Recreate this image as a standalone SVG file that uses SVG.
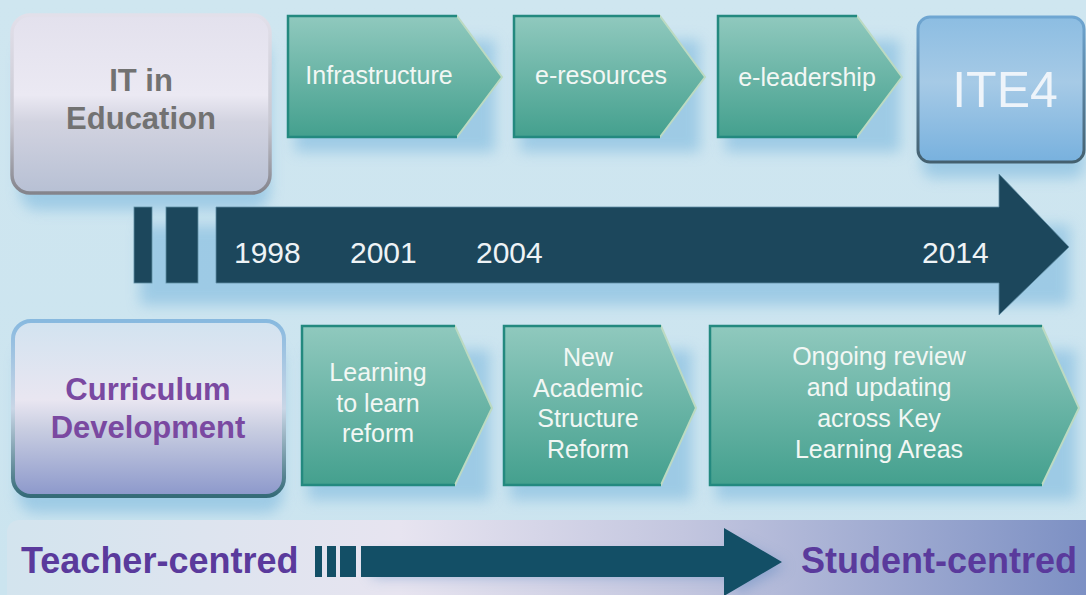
<svg xmlns="http://www.w3.org/2000/svg" width="1086" height="595" viewBox="0 0 1086 595">
  <defs>
    <linearGradient id="bg" x1="0" y1="0" x2="0" y2="1">
      <stop offset="0" stop-color="#cfe6f0"/>
      <stop offset="1" stop-color="#cbe4ef"/>
    </linearGradient>
    <linearGradient id="chev" x1="0" y1="0" x2="0" y2="1">
      <stop offset="0" stop-color="#90c9be"/>
      <stop offset="1" stop-color="#44a08e"/>
    </linearGradient>
    <linearGradient id="itFill" x1="0" y1="0" x2="0" y2="1">
      <stop offset="0" stop-color="#e3e1ed"/>
      <stop offset="0.45" stop-color="#ebe9f3"/>
      <stop offset="0.6" stop-color="#d2d3e0"/>
      <stop offset="1" stop-color="#b7c0d4"/>
    </linearGradient>
    <linearGradient id="itStroke" x1="0" y1="0" x2="0" y2="1">
      <stop offset="0" stop-color="#e2e0ea"/>
      <stop offset="0.6" stop-color="#c8c8d2"/>
      <stop offset="1" stop-color="#84848c"/>
    </linearGradient>
    <linearGradient id="cdFill" x1="0" y1="0" x2="0" y2="1">
      <stop offset="0" stop-color="#d2e3f0"/>
      <stop offset="0.45" stop-color="#e9e6f1"/>
      <stop offset="0.62" stop-color="#c8cde1"/>
      <stop offset="1" stop-color="#8c98cb"/>
    </linearGradient>
    <linearGradient id="cdStroke" x1="0" y1="0" x2="0" y2="1">
      <stop offset="0" stop-color="#88b9df"/>
      <stop offset="0.5" stop-color="#c9d6e6"/>
      <stop offset="1" stop-color="#356b78"/>
    </linearGradient>
    <linearGradient id="iteFill" x1="0" y1="0" x2="0" y2="1">
      <stop offset="0" stop-color="#8cbde2"/>
      <stop offset="0.45" stop-color="#a6cae6"/>
      <stop offset="1" stop-color="#78b1de"/>
    </linearGradient>
    <linearGradient id="iteStroke" x1="0" y1="0" x2="0" y2="1">
      <stop offset="0" stop-color="#6fa6d2"/>
      <stop offset="1" stop-color="#44606f"/>
    </linearGradient>
    <linearGradient id="band" x1="0" y1="0" x2="1" y2="0">
      <stop offset="0" stop-color="#d3e4ee"/>
      <stop offset="0.36" stop-color="#e7e4f0"/>
      <stop offset="0.62" stop-color="#c3c6df"/>
      <stop offset="1" stop-color="#7b8fc3"/>
    </linearGradient>
    <filter id="soft" x="-20%" y="-20%" width="140%" height="160%">
      <feGaussianBlur stdDeviation="7"/>
    </filter>
    <style>
      .chev { fill: url(#chev); stroke: #bcdac2; stroke-width: 2; }
      .edge { fill: none; stroke: #23897f; stroke-width: 2.5; }
      .shadow { fill: #8ec2e2; opacity: 0.75; filter: url(#soft); }
      .lbl { font-family: "Liberation Sans", Arial, sans-serif; font-size: 25px; fill: #f2f7f4; text-anchor: middle; }
      .head { font-family: "Liberation Sans", Arial, sans-serif; font-weight: bold; font-size: 31px; text-anchor: middle; }
      .year { font-family: "Liberation Sans", Arial, sans-serif; font-size: 30px; fill: #eef3f6; }
      .pole { font-family: "Liberation Sans", Arial, sans-serif; font-weight: bold; font-size: 36px; fill: #5a3a9c; }
    </style>
  </defs>

  <!-- backdrop -->
  <rect x="0" y="0" width="1086" height="595" fill="url(#bg)"/>

  <!-- soft shadows beneath shapes -->
  <g id="shadows">
    <rect class="shadow" x="20" y="40" width="250" height="170" rx="18"/>
    <rect class="shadow" x="295" y="40" width="200" height="112"/>
    <rect class="shadow" x="520" y="40" width="180" height="112"/>
    <rect class="shadow" x="725" y="40" width="175" height="112"/>
    <rect class="shadow" x="922" y="40" width="162" height="138" rx="12"/>
    <rect class="shadow" x="140" y="225" width="930" height="80"/>
    <rect class="shadow" x="18" y="345" width="265" height="168" rx="18"/>
    <rect class="shadow" x="308" y="350" width="182" height="150"/>
    <rect class="shadow" x="510" y="350" width="182" height="150"/>
    <rect class="shadow" x="716" y="350" width="360" height="150"/>
  </g>

  <!-- IT in Education -->
  <g id="node-it">
    <rect x="12" y="15" width="258" height="178" rx="18" fill="url(#itFill)" stroke="url(#itStroke)" stroke-width="3.5"/>
    <text class="head" x="141" y="91" fill="#727272">IT in</text>
    <text class="head" x="141" y="129" fill="#727272">Education</text>
  </g>

  <!-- IT milestones -->
  <g id="node-infrastructure">
    <polygon class="chev" points="288,16 457,16 502,77 457,137 288,137"/>
    <polyline class="edge" points="457,16 288,16 288,137 457,137"/>
    <text class="lbl" x="379" y="84">Infrastructure</text>
  </g>
  <g id="node-eresources">
    <polygon class="chev" points="514,16 660,16 705,77 660,137 514,137"/>
    <polyline class="edge" points="660,16 514,16 514,137 660,137"/>
    <text class="lbl" x="601" y="84">e-resources</text>
  </g>
  <g id="node-eleadership">
    <polygon class="chev" points="718,16 857,16 902,77 857,137 718,137"/>
    <polyline class="edge" points="857,16 718,16 718,137 857,137"/>
    <text class="lbl" x="807" y="86">e-leadership</text>
  </g>
  <g id="node-ite4">
    <rect x="918" y="17" width="166" height="145" rx="12" fill="url(#iteFill)" stroke="url(#iteStroke)" stroke-width="3"/>
    <text x="1005" y="107" font-family="Liberation Sans, Arial, sans-serif" font-size="50" fill="#eef4fa" text-anchor="middle">ITE4</text>
  </g>

  <!-- Curriculum Development -->
  <g id="node-curriculum">
    <rect x="13" y="321" width="271" height="175" rx="18" fill="url(#cdFill)" stroke="url(#cdStroke)" stroke-width="4"/>
    <text class="head" x="148" y="400" fill="#7a49a1">Curriculum</text>
    <text class="head" x="148" y="438" fill="#7a49a1">Development</text>
  </g>

  <!-- Curriculum milestones -->
  <g id="node-learning">
    <polygon class="chev" points="302,326 455,326 492,408 455,485 302,485"/>
    <polyline class="edge" points="455,326 302,326 302,485 455,485"/>
    <text class="lbl" x="378" y="381">Learning</text>
    <text class="lbl" x="378" y="412">to learn</text>
    <text class="lbl" x="378" y="442">reform</text>
  </g>
  <g id="node-nas">
    <polygon class="chev" points="504,326 661,326 696,408 661,485 504,485"/>
    <polyline class="edge" points="661,326 504,326 504,485 661,485"/>
    <text class="lbl" x="588" y="366">New</text>
    <text class="lbl" x="588" y="397">Academic</text>
    <text class="lbl" x="588" y="427">Structure</text>
    <text class="lbl" x="588" y="458">Reform</text>
  </g>
  <g id="node-ongoing">
    <polygon class="chev" points="710,326 1042,326 1079,408 1042,485 710,485"/>
    <polyline class="edge" points="1042,326 710,326 710,485 1042,485"/>
    <text class="lbl" x="879" y="365">Ongoing review</text>
    <text class="lbl" x="879" y="396">and updating</text>
    <text class="lbl" x="879" y="427">across Key</text>
    <text class="lbl" x="879" y="458">Learning Areas</text>
  </g>

  <!-- connectors: timeline arrow and progression arrow -->
  <g id="connectors">
    <g id="timeline" fill="#1c475c" stroke="#5f8ea4" stroke-width="0.8">
      <rect x="134" y="207" width="18" height="76"/>
      <rect x="166" y="207" width="32" height="76"/>
      <polygon points="216,207 999,207 999,174 1069,247 999,315 999,283 216,283"/>
    </g>
    <g id="years">
      <text class="year" x="234" y="263">1998</text>
      <text class="year" x="350" y="263">2001</text>
      <text class="year" x="476" y="263">2004</text>
      <text class="year" x="922" y="263">2014</text>
    </g>
    <g id="progression">
      <rect x="7" y="520" width="1090" height="90" rx="12" fill="url(#band)"/>
      <polygon points="372,556 735,556 735,540 785,566 735,595 735,577 372,577" fill="#5d88c0" opacity="0.5" filter="url(#soft)"/>
      <g fill="#134f66">
        <rect x="315" y="546" width="7" height="31"/>
        <rect x="327" y="546" width="9" height="31"/>
        <rect x="340" y="546" width="16" height="31"/>
        <polygon points="361,546 724,546 724,528 782,562 724,596 724,577 361,577"/>
      </g>
      <text class="pole" x="21" y="573">Teacher-centred</text>
      <text class="pole" x="801" y="573">Student-centred</text>
    </g>
  </g>
</svg>
